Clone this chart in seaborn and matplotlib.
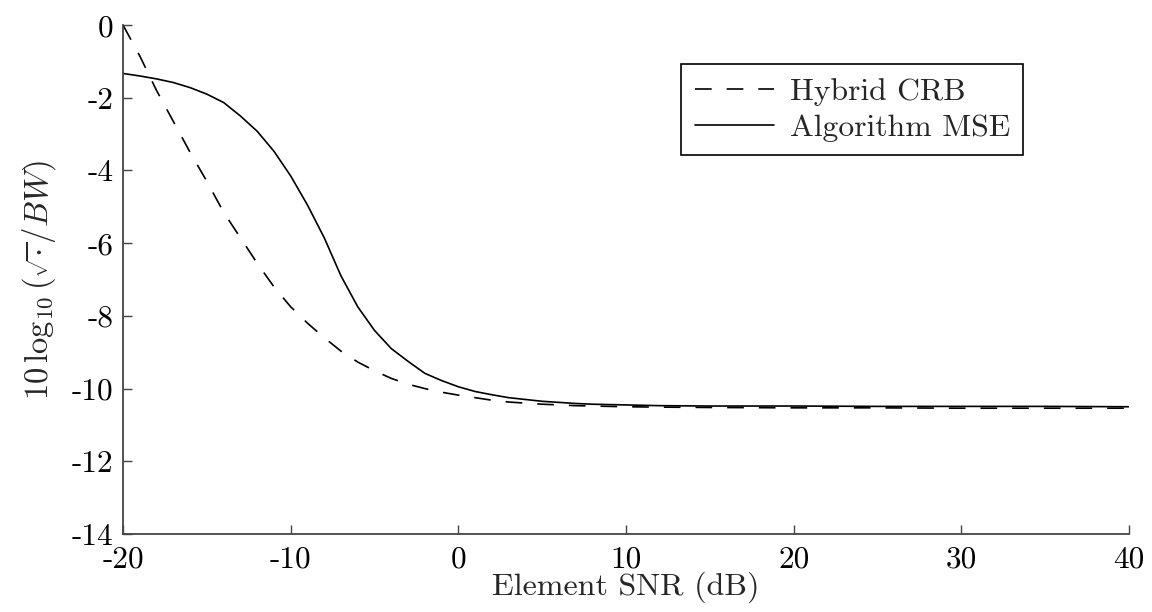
import matplotlib
matplotlib.use("Agg")
import matplotlib.pyplot as plt
import seaborn as sns
import pandas as pd

# ---- data ----
snr_crb = [-20, -19, -18, -17, -16, -15, -14, -13, -12, -11, -10, -9, -8, -7, -6,
           -5, -4, -3, -2, -1, 0, 1, 2, 3, 4, 5, 6, 7, 8, 9, 10, 12, 15, 20, 25,
           30, 35, 40]
crb = [0.0, -0.85, -1.8, -2.65, -3.5, -4.3, -5.15, -5.85, -6.55, -7.2, -7.75,
       -8.2, -8.6, -8.97, -9.27, -9.51, -9.72, -9.88, -10.0, -10.1, -10.18,
       -10.25, -10.32, -10.37, -10.40, -10.43, -10.45, -10.47, -10.48, -10.49,
       -10.50, -10.51, -10.52, -10.53, -10.53, -10.54, -10.54, -10.54]

snr_mse = [-20, -19, -18, -17, -16, -15, -14, -13, -12, -11, -10, -9, -8, -7, -6,
           -5, -4, -3, -2, -1, 0, 1, 2, 3, 4, 5, 6, 7, 8, 9, 10, 12, 15, 20, 25,
           30, 35, 40]
mse = [-1.33, -1.40, -1.48, -1.58, -1.72, -1.90, -2.13, -2.50, -2.92, -3.47,
       -4.15, -4.95, -5.85, -6.90, -7.75, -8.40, -8.90, -9.25, -9.58, -9.78,
       -9.95, -10.08, -10.17, -10.25, -10.30, -10.35, -10.38, -10.41, -10.43,
       -10.44, -10.45, -10.47, -10.48, -10.48, -10.49, -10.49, -10.49, -10.50]

series_names = ["Hybrid CRB", "Algorithm MSE"]
x_ticks = [-20, -10, 0, 10, 20, 30, 40]
y_ticks = [0, -2, -4, -6, -8, -10, -12, -14]

df = pd.concat([
    pd.DataFrame({"snr": snr_crb, "val": crb, "series": series_names[0]}),
    pd.DataFrame({"snr": snr_mse, "val": mse, "series": series_names[1]}),
])

sns.set_style("ticks")
plt.rcParams["font.family"] = ["cmr10", "DejaVu Serif"]
plt.rcParams["mathtext.fontset"] = "cm"
plt.rcParams["axes.unicode_minus"] = False
plt.rcParams["axes.formatter.use_mathtext"] = False

fig = plt.figure(figsize=(11.52, 6.12), dpi=100)
ax = fig.add_axes([0.1068, 0.1275, 0.9800 - 0.1068, 0.959 - 0.1275])

sns.lineplot(data=df, x="snr", y="val", hue="series", style="series",
             hue_order=series_names, style_order=series_names,
             palette={series_names[0]: "black", series_names[1]: "black"},
             dashes={series_names[0]: (10, 9), series_names[1]: ""},
             linewidth=1.2, ax=ax, sort=False, estimator=None)

ax.set_xlim(-20, 40)
ax.set_ylim(-14, 0)
ax.set_xticks(x_ticks)
ax.set_yticks(y_ticks)
ax.set_xticklabels([str(t) for t in x_ticks])
ax.set_yticklabels([str(t) for t in y_ticks])

for side in ["top", "right"]:
    ax.spines[side].set_visible(False)
for side in ["left", "bottom"]:
    ax.spines[side].set_color("#444444")
    ax.spines[side].set_linewidth(1.3)

ax.tick_params(direction="in", length=6.7, width=1.0, color="#444444",
               labelsize=22.5, labelcolor="black")
ax.tick_params(axis="x", pad=8)
ax.tick_params(axis="y", pad=7)

ax.set_xlabel("Element SNR (dB)", fontsize=23, labelpad=-1)
ax.set_ylabel(r"$10\,\log_{10}(\sqrt{\cdot}/BW)$", fontsize=23.5, labelpad=10)

leg = ax.legend(loc="upper right", bbox_to_anchor=(0.895, 0.923),
                borderaxespad=0, fontsize=22.8, handlelength=2.5,
                handletextpad=0.5, borderpad=0.42, labelspacing=0.25,
                fancybox=False, frameon=True, edgecolor="black",
                framealpha=1)
leg.get_frame().set_linewidth(1.2)

fig.savefig("out.png", dpi=100)
